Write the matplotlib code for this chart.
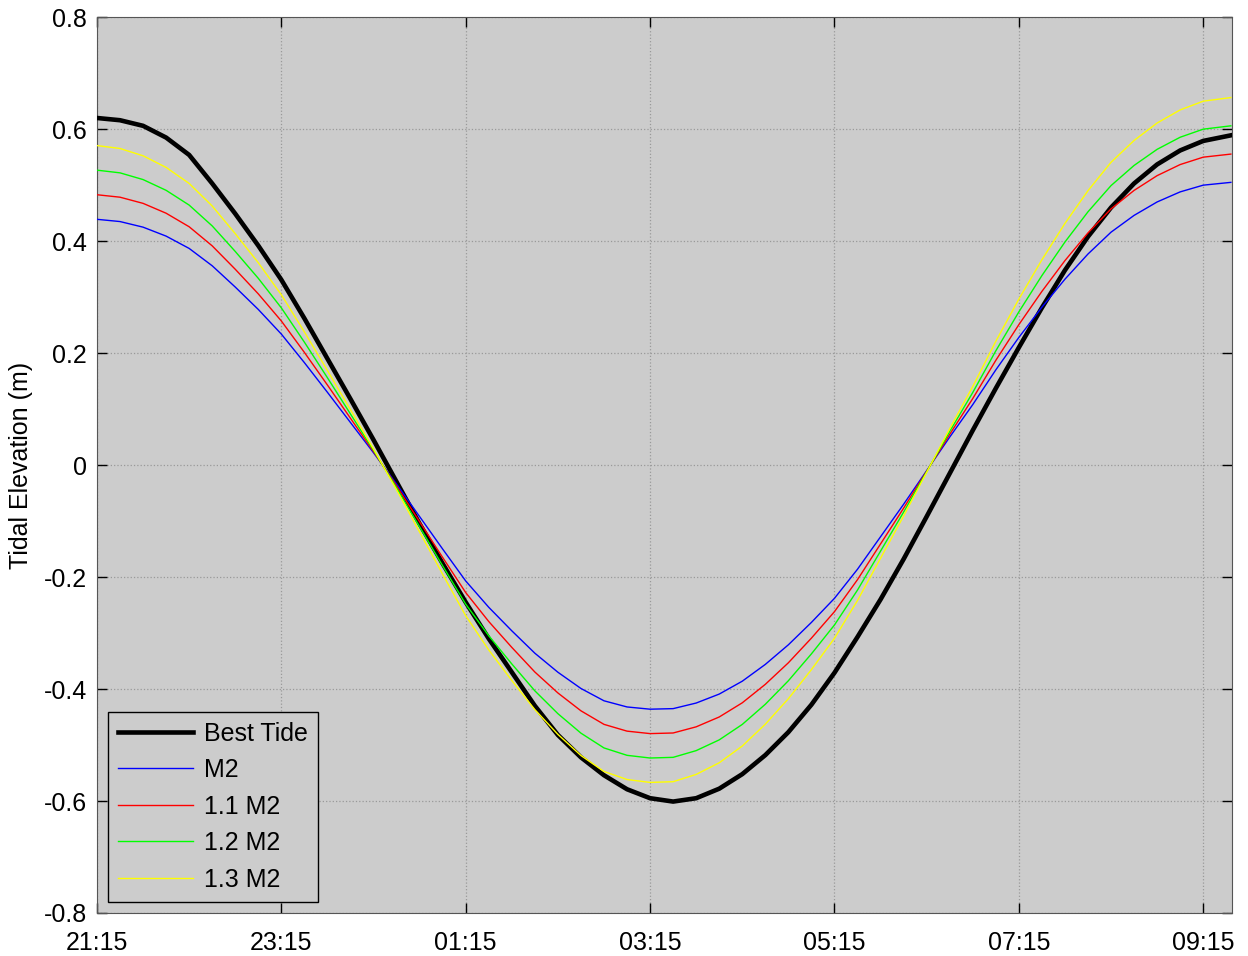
import matplotlib
matplotlib.use("Agg")
import matplotlib.pyplot as plt

# hours after 21:15, every 15 min
hours = [0, 0.25, 0.5, 0.75, 1, 1.25, 1.5, 1.75, 2, 2.25, 2.5, 2.75,
         3, 3.25, 3.5, 3.75, 4, 4.25, 4.5, 4.75, 5, 5.25, 5.5, 5.75,
         6, 6.25, 6.5, 6.75, 7, 7.25, 7.5, 7.75, 8, 8.25, 8.5, 8.75,
         9, 9.25, 9.5, 9.75, 10, 10.25, 10.5, 10.75, 11, 11.25, 11.5, 11.75,
         12, 12.3]

best_tide = [0.620, 0.616, 0.606, 0.585, 0.554, 0.503, 0.449, 0.392,
             0.331, 0.262, 0.190, 0.118, 0.045, -0.030, -0.105, -0.176,
             -0.245, -0.310, -0.370, -0.430, -0.482, -0.522, -0.554, -0.579,
             -0.595, -0.601, -0.595, -0.578, -0.552, -0.518, -0.477, -0.428,
             -0.371, -0.307, -0.240, -0.168, -0.092, -0.015, 0.062, 0.137,
             0.210, 0.281, 0.348, 0.408, 0.460, 0.503, 0.537, 0.562,
             0.579, 0.589]

m2 = [0.439, 0.435, 0.425, 0.409, 0.387, 0.356, 0.318, 0.278,
      0.234, 0.183, 0.130, 0.076, 0.022, -0.034, -0.092, -0.150,
      -0.207, -0.254, -0.296, -0.336, -0.370, -0.399, -0.421, -0.432,
      -0.436, -0.435, -0.425, -0.409, -0.386, -0.356, -0.321, -0.281,
      -0.238, -0.186, -0.128, -0.070, -0.010, 0.050, 0.108, 0.170,
      0.228, 0.282, 0.332, 0.377, 0.416, 0.446, 0.470, 0.488,
      0.500, 0.505]

scales = [1.0, 1.1, 1.2, 1.3]
scale_labels = ["M2", "1.1 M2", "1.2 M2", "1.3 M2"]
scale_colors = ["#0000ff", "#ff0000", "#00ff00", "#ffff00"]

tick_hours = [0, 2, 4, 6, 8, 10, 12]
tick_labels = ["21:15", "23:15", "01:15", "03:15", "05:15", "07:15", "09:15"]
y_ticks = [-0.8, -0.6, -0.4, -0.2, 0, 0.2, 0.4, 0.6, 0.8]

plt.rcParams["font.family"] = ["Liberation Sans", "DejaVu Sans"]
plt.rcParams["font.size"] = 18

fig = plt.figure(figsize=(12.48, 9.56), dpi=100)
ax = fig.add_axes([0.0777, 0.045, 0.9093, 0.937])
ax.set_facecolor("#cccccc")

ax.plot(hours, best_tide, color="black", linewidth=3.3, label="Best Tide", zorder=3)
for s, lab, c in zip(scales, scale_labels, scale_colors):
    ax.plot(hours, [s * v for v in m2], color=c, linewidth=1.0, label=lab, zorder=3)

ax.set_xlim(0, 12.31)
ax.set_ylim(-0.8, 0.8)
ax.set_xticks(tick_hours)
ax.set_xticklabels(tick_labels)
ax.set_yticks(y_ticks)
ax.set_yticklabels(["%g" % t for t in y_ticks])
ax.tick_params(direction="in", length=7, width=1, top=True, right=True)
ax.tick_params(axis="x", pad=13)
ax.tick_params(axis="y", pad=7)
ax.grid(True, linestyle=":", color="#999999", linewidth=0.9)
ax.set_axisbelow(True)
for sp in ax.spines.values():
    sp.set_color("#555555")

ax.set_ylabel("Tidal Elevation (m)", labelpad=8)

leg = ax.legend(loc="lower left", bbox_to_anchor=(0.0, 0.0), borderaxespad=0.45,
                fancybox=False, framealpha=1, facecolor="#cccccc",
                edgecolor="black", handlelength=3.0, handletextpad=0.45,
                labelspacing=0.5, borderpad=0.4)
leg.get_frame().set_linewidth(1.0)

fig.savefig("out.png", dpi=100)
